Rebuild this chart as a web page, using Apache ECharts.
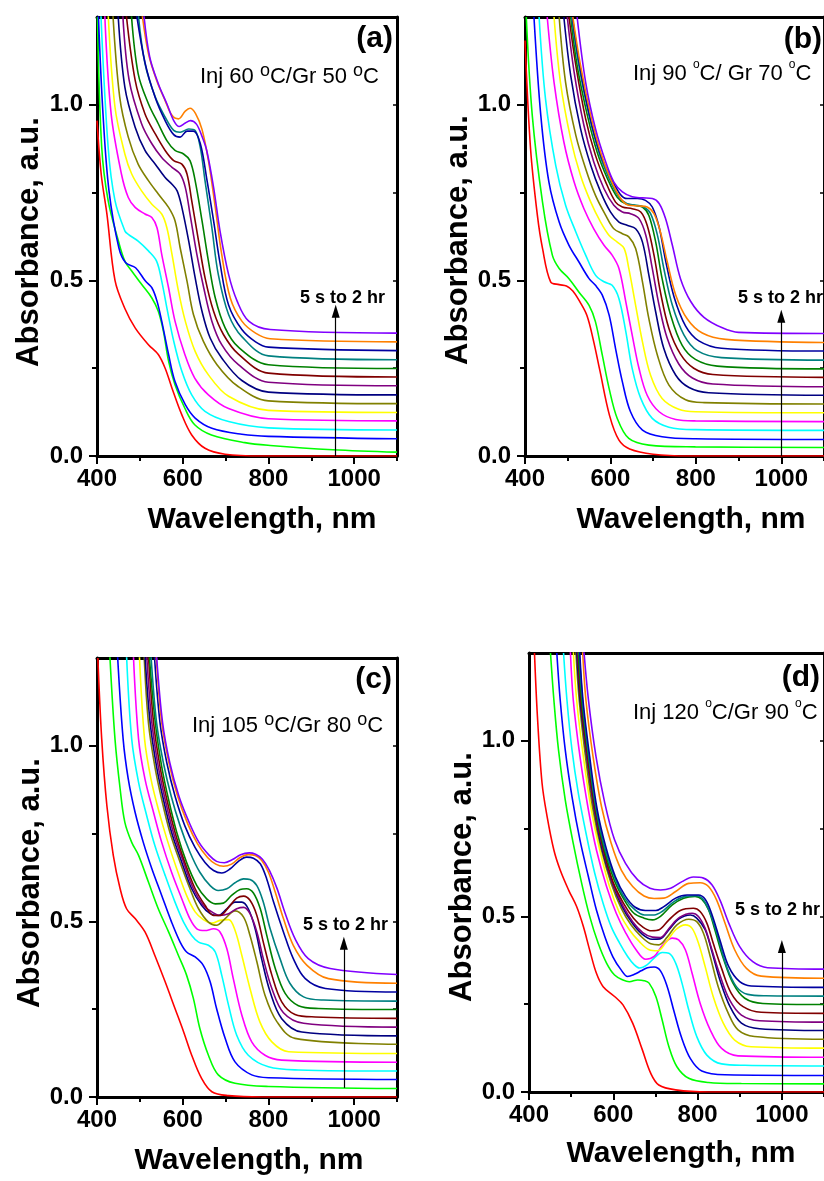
<!DOCTYPE html>
<html>
<head>
<meta charset="utf-8">
<script src="https://cdn.jsdelivr.net/npm/echarts@6/dist/echarts.min.js"></script>
<style>
  html, body { margin: 0; padding: 0; background: #fff; }
  #chart { width: 824px; height: 1181px; }
</style>
</head>
<body>
<div id="chart"></div>
<script>
// spectra colours, first scan (5 s) to last (2 hr)
const colors = ['#ff0000', '#00ff00', '#0000ff', '#00ffff', '#ff00ff', '#ffff00', '#808000',
  '#000080', '#800080', '#800000', '#008000', '#008080', '#0000a0', '#ff8000', '#8000ff'];

const xTicks = [400, 600, 800, 1000];
const xMinor = [500, 700, 900, 1100];
const yTicks = [0, 0.5, 1.0];
const yMinor = [0.25, 0.75];
const yRight = [0.25, 0.5, 0.75, 1.0];

const tags = ['(a)', '(b)', '(c)', '(d)'];
const notes = [
  '{t|Inj 60 }{sb|o}{t|C/Gr 50 }{sb|o}{t|C}',
  '{t|Inj 90 }{ss|o}{t|C/ Gr 70 }{ss|o}{t|C}',
  '{t|Inj 105 }{sb|o}{t|C/Gr 80 }{sb|o}{t|C}',
  '{t|Inj 120 }{ss|o}{t|C/Gr 90 }{ss|o}{t|C}'
];
const arrowText = '5 s to 2 hr';
const arrowX = [957, 1000, 976, 1000];
const arrowFrom = [0, 0, 0.026, 0];
const arrowTo = [0.412, 0.398, 0.438, 0.414];

// (a) Inj 60 / Gr 50
const specA = [
  [[400,0.955],[410,0.80],[423,0.69],[442,0.50],[465,0.42],[489,0.365],[520,0.317],[543,0.289],[559,0.25],[575,0.193],[598,0.117],[621,0.06],[652,0.022],[699,0.005],[784,0],[1100,0]],
  [[401,1.25],[411,0.879],[426,0.727],[450,0.612],[465,0.555],[481,0.527],[504,0.489],[528,0.45],[543,0.412],[555,0.355],[567,0.27],[582,0.203],[605,0.136],[628,0.089],[667,0.06],[745,0.038],[804,0.03],[950,0.018],[1100,0.011]],
  [[403,1.26],[414,0.974],[428,0.755],[451,0.593],[467,0.55],[490,0.536],[513,0.498],[528,0.479],[540,0.441],[551,0.384],[567,0.289],[582,0.212],[606,0.146],[629,0.108],[668,0.079],[738,0.062],[800,0.056],[1100,0.049]],
  [[409,1.26],[426,0.879],[442,0.727],[465,0.641],[473,0.631],[496,0.612],[520,0.584],[539,0.555],[551,0.498],[563,0.422],[579,0.327],[598,0.241],[621,0.174],[652,0.127],[707,0.098],[800,0.08],[1100,0.074]],
  [[418,1.26],[433,0.974],[457,0.803],[473,0.736],[489,0.708],[512,0.689],[528,0.679],[540,0.65],[551,0.574],[567,0.479],[582,0.384],[605,0.289],[628,0.222],[660,0.174],[707,0.135],[800,0.106],[1100,0.1]],
  [[426,1.26],[442,0.993],[465,0.86],[481,0.803],[504,0.755],[528,0.717],[551,0.689],[563,0.65],[575,0.574],[590,0.47],[606,0.384],[629,0.298],[660,0.231],[707,0.17],[800,0.13],[1100,0.124]],
  [[437,1.26],[453,1.022],[473,0.908],[496,0.831],[520,0.784],[543,0.746],[567,0.708],[582,0.67],[594,0.593],[610,0.498],[625,0.403],[648,0.327],[680,0.26],[727,0.2],[800,0.157],[1100,0.149]],
  [[449,1.26],[465,1.05],[489,0.936],[512,0.87],[536,0.831],[559,0.793],[575,0.774],[587,0.755],[598,0.708],[614,0.612],[629,0.508],[645,0.412],[664,0.336],[691,0.279],[738,0.215],[800,0.182],[1100,0.174]],
  [[460,1.26],[475,1.07],[504,0.946],[528,0.889],[551,0.85],[575,0.822],[594,0.803],[606,0.765],[617,0.689],[633,0.574],[649,0.479],[668,0.384],[691,0.317],[730,0.26],[800,0.21],[1100,0.2]],
  [[468,1.26],[489,1.07],[512,0.974],[536,0.917],[559,0.87],[579,0.841],[598,0.831],[610,0.803],[621,0.727],[637,0.612],[652,0.508],[672,0.412],[695,0.346],[730,0.29],[800,0.236],[1100,0.225]],
  [[480,1.26],[496,1.089],[520,1.003],[543,0.946],[563,0.898],[582,0.87],[602,0.86],[617,0.841],[629,0.784],[645,0.67],[660,0.555],[676,0.45],[699,0.365],[730,0.31],[800,0.26],[1100,0.249]],
  [[496,1.26],[512,1.117],[536,1.022],[559,0.965],[579,0.927],[594,0.922],[614,0.931],[629,0.927],[641,0.879],[652,0.784],[668,0.65],[683,0.517],[707,0.403],[738,0.34],[800,0.285],[1100,0.274]],
  [[492,1.26],[512,1.12],[536,1.02],[559,0.955],[579,0.915],[594,0.908],[610,0.925],[625,0.925],[641,0.89],[656,0.79],[672,0.67],[687,0.55],[707,0.43],[738,0.36],[770,0.325],[800,0.31],[1100,0.3]],
  [[505,1.26],[520,1.146],[539,1.07],[559,1.012],[575,0.97],[590,0.96],[606,0.982],[617,0.99],[630,0.975],[645,0.93],[660,0.841],[676,0.708],[691,0.574],[711,0.45],[738,0.384],[770,0.35],[804,0.334],[1100,0.325]],
  [[509,1.26],[523,1.136],[543,1.06],[563,1.003],[579,0.955],[592,0.938],[606,0.948],[618,0.955],[632,0.945],[645,0.91],[656,0.87],[672,0.765],[687,0.641],[707,0.517],[727,0.441],[754,0.384],[804,0.36],[1100,0.35]]
];

// (b) Inj 90 / Gr 70
const specB = [
  [[400,1.183],[413,0.875],[429,0.685],[441,0.591],[460,0.496],[480,0.488],[497,0.484],[512,0.47],[528,0.44],[545,0.40],[560,0.33],[575,0.245],[598,0.115],[620,0.045],[645,0.02],[700,0.005],[784,0],[1100,0]],
  [[403,1.25],[417,0.97],[441,0.723],[464,0.572],[480,0.534],[503,0.505],[526,0.467],[550,0.429],[565,0.382],[581,0.287],[597,0.192],[616,0.107],[643,0.05],[690,0.031],[799,0.026],[1100,0.024]],
  [[421,1.25],[437,0.97],[456,0.78],[480,0.666],[503,0.6],[526,0.553],[550,0.505],[565,0.486],[581,0.458],[597,0.401],[612,0.306],[628,0.211],[647,0.126],[675,0.074],[721,0.055],[799,0.049],[1100,0.047]],
  [[433,1.25],[448,1.017],[472,0.827],[495,0.714],[519,0.638],[542,0.572],[565,0.515],[585,0.496],[604,0.486],[620,0.448],[636,0.354],[651,0.249],[671,0.164],[698,0.107],[737,0.082],[799,0.075],[1100,0.073]],
  [[452,1.25],[468,1.064],[491,0.894],[515,0.78],[538,0.704],[561,0.647],[585,0.6],[604,0.572],[620,0.534],[636,0.439],[651,0.344],[667,0.249],[686,0.173],[714,0.126],[753,0.104],[799,0.1],[1100,0.098]],
  [[468,1.25],[483,1.064],[507,0.903],[530,0.799],[554,0.723],[577,0.666],[597,0.628],[616,0.609],[632,0.591],[643,0.534],[659,0.429],[675,0.325],[694,0.23],[721,0.164],[760,0.133],[799,0.126],[1100,0.123]],
  [[480,1.25],[495,1.064],[519,0.913],[542,0.818],[565,0.742],[589,0.685],[608,0.647],[628,0.633],[643,0.624],[659,0.591],[675,0.496],[690,0.391],[710,0.287],[737,0.202],[776,0.16],[820,0.152],[1100,0.148]],
  [[491,1.25],[507,1.083],[530,0.932],[554,0.827],[577,0.752],[600,0.695],[620,0.666],[639,0.657],[659,0.647],[675,0.609],[690,0.515],[706,0.41],[725,0.306],[753,0.23],[784,0.195],[830,0.18],[1100,0.173]],
  [[499,1.25],[515,1.093],[538,0.941],[561,0.837],[585,0.761],[608,0.714],[628,0.695],[647,0.69],[667,0.676],[683,0.628],[698,0.534],[714,0.429],[733,0.335],[760,0.262],[792,0.222],[840,0.205],[1100,0.197]],
  [[503,1.25],[519,1.112],[542,0.96],[565,0.856],[589,0.78],[612,0.723],[628,0.709],[651,0.704],[671,0.695],[686,0.657],[702,0.572],[717,0.467],[737,0.363],[764,0.29],[795,0.25],[840,0.232],[1100,0.224]],
  [[507,1.25],[522,1.112],[546,0.97],[569,0.865],[593,0.79],[616,0.737],[636,0.718],[655,0.714],[675,0.709],[690,0.685],[706,0.609],[721,0.505],[741,0.401],[768,0.315],[799,0.275],[850,0.256],[1100,0.248]],
  [[509,1.25],[526,1.112],[550,0.97],[573,0.865],[597,0.79],[620,0.737],[639,0.718],[659,0.714],[678,0.709],[694,0.69],[710,0.629],[725,0.534],[745,0.429],[772,0.345],[803,0.3],[860,0.28],[1100,0.273]],
  [[511,1.25],[528,1.112],[551,0.97],[575,0.865],[598,0.799],[622,0.747],[639,0.733],[663,0.733],[682,0.728],[698,0.709],[714,0.652],[729,0.557],[749,0.453],[776,0.37],[807,0.328],[860,0.307],[1100,0.299]],
  [[512,1.25],[530,1.112],[554,0.97],[577,0.865],[600,0.79],[624,0.733],[643,0.714],[667,0.712],[686,0.709],[702,0.69],[717,0.638],[733,0.553],[753,0.458],[780,0.39],[815,0.35],[870,0.332],[1100,0.323]],
  [[522,1.25],[542,1.064],[565,0.932],[589,0.837],[608,0.78],[628,0.752],[651,0.738],[675,0.735],[698,0.733],[714,0.719],[729,0.676],[745,0.6],[764,0.505],[788,0.44],[819,0.395],[862,0.365],[900,0.352],[1100,0.349]]
];

// (c) Inj 105 / Gr 80
const specC = [
  [[402,1.25],[411,1.019],[423,0.83],[438,0.688],[454,0.593],[469,0.536],[489,0.508],[512,0.47],[535,0.403],[559,0.328],[582,0.252],[602,0.186],[621,0.119],[644,0.053],[668,0.015],[707,0.004],[784,0],[1100,0]],
  [[430,1.256],[442,1.019],[454,0.877],[465,0.782],[481,0.725],[497,0.688],[520,0.612],[543,0.536],[567,0.47],[590,0.403],[609,0.347],[625,0.28],[640,0.195],[660,0.119],[683,0.063],[722,0.039],[800,0.03],[1100,0.024]],
  [[448,1.256],[461,1.019],[473,0.905],[489,0.81],[508,0.725],[528,0.65],[551,0.574],[574,0.498],[594,0.441],[609,0.413],[629,0.399],[648,0.375],[664,0.328],[679,0.252],[699,0.167],[722,0.1],[761,0.063],[800,0.055],[1100,0.05]],
  [[469,1.256],[481,1.019],[497,0.896],[516,0.801],[535,0.716],[559,0.631],[582,0.555],[602,0.498],[621,0.46],[637,0.441],[660,0.432],[676,0.413],[691,0.347],[707,0.261],[726,0.176],[753,0.119],[800,0.086],[870,0.077],[1100,0.074]],
  [[485,1.256],[497,1.019],[512,0.905],[532,0.81],[551,0.725],[574,0.64],[598,0.564],[617,0.507],[633,0.479],[652,0.474],[672,0.479],[687,0.47],[703,0.422],[718,0.337],[738,0.233],[761,0.157],[792,0.119],[831,0.105],[1100,0.099]],
  [[499,1.256],[511,1.019],[526,0.905],[543,0.82],[563,0.735],[586,0.65],[609,0.574],[629,0.527],[648,0.505],[668,0.495],[687,0.503],[707,0.505],[722,0.475],[738,0.403],[757,0.309],[780,0.214],[808,0.157],[847,0.129],[1100,0.124]],
  [[510,1.256],[520,1.066],[535,0.941],[551,0.847],[570,0.754],[594,0.668],[617,0.593],[637,0.536],[660,0.498],[679,0.489],[699,0.508],[722,0.53],[742,0.512],[757,0.46],[773,0.385],[792,0.29],[820,0.214],[862,0.167],[1100,0.15]],
  [[512,1.256],[524,1.066],[539,0.941],[555,0.847],[574,0.754],[598,0.668],[621,0.593],[644,0.546],[664,0.522],[683,0.517],[703,0.536],[722,0.555],[738,0.555],[753,0.536],[769,0.479],[784,0.394],[804,0.299],[831,0.223],[878,0.185],[1100,0.174]],
  [[516,1.256],[528,1.066],[543,0.941],[559,0.847],[578,0.754],[602,0.668],[625,0.593],[648,0.546],[668,0.527],[687,0.517],[707,0.522],[726,0.536],[742,0.54],[757,0.522],[773,0.47],[788,0.394],[808,0.309],[835,0.24],[882,0.21],[1100,0.199]],
  [[520,1.256],[532,1.066],[547,0.941],[563,0.847],[582,0.754],[605,0.668],[629,0.593],[652,0.546],[672,0.517],[687,0.517],[707,0.54],[726,0.566],[742,0.572],[757,0.56],[773,0.517],[788,0.441],[808,0.347],[831,0.271],[862,0.235],[909,0.228],[1100,0.224]],
  [[522,1.256],[536,1.066],[551,0.941],[567,0.847],[586,0.754],[609,0.668],[633,0.602],[656,0.564],[676,0.55],[695,0.552],[714,0.574],[734,0.591],[749,0.593],[765,0.581],[781,0.536],[796,0.461],[816,0.366],[839,0.295],[870,0.26],[917,0.252],[1100,0.249]],
  [[526,1.256],[539,1.066],[555,0.951],[573,0.857],[594,0.772],[617,0.697],[640,0.64],[664,0.602],[683,0.588],[703,0.593],[722,0.61],[742,0.621],[757,0.619],[773,0.602],[788,0.555],[804,0.479],[827,0.394],[850,0.324],[882,0.285],[929,0.276],[1100,0.273]],
  [[534,1.256],[547,1.066],[563,0.951],[582,0.857],[605,0.772],[629,0.71],[652,0.668],[672,0.645],[691,0.638],[711,0.65],[730,0.671],[749,0.683],[765,0.68],[781,0.664],[796,0.621],[812,0.555],[835,0.47],[858,0.394],[886,0.337],[933,0.309],[1100,0.299]],
  [[538,1.256],[551,1.066],[568,0.951],[588,0.857],[612,0.777],[635,0.72],[658,0.682],[677,0.663],[695,0.657],[714,0.663],[734,0.682],[753,0.69],[769,0.688],[784,0.674],[800,0.64],[816,0.583],[835,0.508],[858,0.432],[890,0.375],[940,0.337],[1100,0.324]],
  [[539,1.256],[553,1.066],[570,0.951],[591,0.857],[615,0.782],[638,0.725],[662,0.688],[679,0.671],[697,0.667],[716,0.676],[735,0.69],[755,0.695],[770,0.691],[786,0.677],[802,0.646],[820,0.594],[839,0.523],[862,0.451],[893,0.394],[944,0.366],[1100,0.349]]
];

// (d) Inj 120 / Gr 90
const specD = [
  [[413,1.25],[420,1.069],[431,0.879],[443,0.784],[459,0.689],[474,0.632],[494,0.575],[513,0.528],[529,0.471],[544,0.404],[560,0.338],[576,0.3],[603,0.272],[623,0.248],[646,0.196],[669,0.12],[689,0.053],[708,0.02],[748,0.006],[826,0],[1100,0]],
  [[451,1.25],[459,1.117],[470,0.974],[486,0.832],[505,0.708],[525,0.594],[544,0.5],[564,0.424],[584,0.367],[603,0.333],[623,0.319],[638,0.314],[658,0.319],[673,0.317],[685,0.31],[701,0.272],[716,0.205],[732,0.129],[751,0.072],[779,0.039],[826,0.027],[904,0.024],[1100,0.023]],
  [[466,1.25],[474,1.117],[486,0.974],[502,0.841],[521,0.717],[541,0.613],[560,0.518],[580,0.442],[599,0.385],[619,0.347],[634,0.329],[650,0.335],[666,0.345],[681,0.354],[697,0.356],[712,0.345],[728,0.3],[744,0.23],[762,0.155],[783,0.095],[810,0.06],[865,0.049],[1100,0.047]],
  [[482,1.25],[490,1.117],[502,0.974],[517,0.851],[537,0.727],[556,0.623],[576,0.537],[595,0.471],[615,0.424],[634,0.386],[650,0.362],[662,0.353],[680,0.362],[700,0.385],[716,0.397],[732,0.395],[748,0.367],[763,0.31],[779,0.234],[798,0.158],[822,0.105],[857,0.08],[912,0.076],[1100,0.074]],
  [[498,1.26],[505,1.117],[521,0.955],[541,0.803],[560,0.689],[584,0.585],[607,0.509],[630,0.452],[654,0.405],[677,0.378],[697,0.386],[716,0.416],[740,0.438],[755,0.433],[771,0.405],[787,0.338],[806,0.253],[830,0.177],[857,0.124],[896,0.103],[1100,0.099]],
  [[505,1.26],[513,1.117],[529,0.955],[548,0.803],[568,0.689],[591,0.585],[615,0.509],[638,0.462],[662,0.428],[685,0.405],[705,0.402],[724,0.424],[748,0.462],[771,0.476],[787,0.466],[802,0.424],[818,0.357],[837,0.272],[861,0.196],[888,0.148],[927,0.129],[1100,0.125]],
  [[511,1.26],[519,1.117],[534,0.955],[552,0.803],[572,0.689],[595,0.594],[619,0.523],[642,0.476],[666,0.443],[689,0.422],[708,0.419],[728,0.441],[751,0.476],[779,0.492],[798,0.485],[814,0.452],[830,0.386],[849,0.3],[873,0.224],[896,0.177],[935,0.158],[1100,0.15]],
  [[513,1.26],[521,1.117],[537,0.955],[555,0.803],[574,0.689],[598,0.594],[621,0.528],[645,0.481],[668,0.45],[692,0.435],[711,0.436],[732,0.462],[755,0.492],[783,0.504],[798,0.495],[818,0.462],[834,0.4],[853,0.319],[877,0.243],[904,0.196],[947,0.18],[1100,0.175]],
  [[515,1.26],[523,1.117],[538,0.955],[556,0.803],[576,0.689],[599,0.594],[623,0.53],[646,0.485],[670,0.454],[693,0.441],[712,0.44],[733,0.467],[757,0.497],[787,0.509],[802,0.5],[818,0.466],[833,0.409],[853,0.333],[876,0.262],[904,0.219],[947,0.203],[1100,0.199]],
  [[516,1.26],[523,1.117],[539,0.955],[557,0.803],[577,0.689],[599,0.599],[624,0.538],[648,0.495],[671,0.469],[691,0.459],[709,0.462],[732,0.49],[759,0.517],[790,0.523],[806,0.514],[822,0.481],[837,0.424],[857,0.352],[880,0.281],[908,0.243],[951,0.227],[1100,0.224]],
  [[517,1.26],[525,1.117],[541,0.955],[559,0.803],[579,0.689],[602,0.604],[626,0.547],[649,0.509],[673,0.495],[693,0.49],[712,0.5],[740,0.533],[767,0.552],[794,0.557],[810,0.549],[826,0.519],[841,0.462],[861,0.381],[884,0.31],[912,0.267],[955,0.252],[1100,0.249]],
  [[519,1.26],[527,1.117],[542,0.955],[560,0.803],[580,0.694],[604,0.609],[627,0.552],[651,0.519],[674,0.504],[697,0.504],[716,0.514],[744,0.542],[771,0.557],[798,0.559],[814,0.547],[830,0.509],[848,0.443],[869,0.357],[892,0.3],[919,0.278],[962,0.274],[1100,0.273]],
  [[520,1.26],[528,1.117],[544,0.955],[562,0.803],[582,0.699],[605,0.613],[629,0.557],[652,0.526],[676,0.517],[701,0.517],[720,0.528],[748,0.552],[775,0.561],[802,0.561],[818,0.549],[833,0.509],[853,0.433],[874,0.357],[900,0.314],[927,0.302],[1100,0.298]],
  [[527,1.26],[535,1.117],[552,0.955],[572,0.813],[595,0.708],[619,0.632],[646,0.585],[673,0.558],[697,0.551],[720,0.552],[748,0.571],[779,0.594],[806,0.596],[826,0.585],[845,0.547],[865,0.481],[888,0.405],[916,0.352],[951,0.33],[1100,0.324]],
  [[530,1.26],[541,1.117],[559,0.955],[580,0.822],[603,0.718],[629,0.651],[658,0.604],[687,0.58],[712,0.575],[736,0.58],[763,0.599],[790,0.612],[814,0.609],[834,0.59],[853,0.547],[874,0.481],[900,0.414],[931,0.371],[966,0.354],[1100,0.35]]
];

const panels = [specA, specB, specC, specD];

const font = '"Liberation Sans", Arial, Helvetica, sans-serif';

// panel frames (pixels)
const boxes = [
  { left: 97, top: 17 },
  { left: 525, top: 17 },
  { left: 97, top: 658 },
  { left: 529, top: 653 }
];
const boxW = 300, boxH = 439;

const grid = [], xAxis = [], yAxis = [], series = [], graphic = [];

boxes.forEach(function (b, g) {
  grid.push({ left: b.left, top: b.top, width: boxW, height: boxH, containLabel: false });

  // bottom axis with labels and major ticks
  xAxis.push({
    type: 'value', gridIndex: g, min: 400, max: 1100, position: 'bottom',
    axisLine: { show: true, onZero: false, lineStyle: { color: '#000', width: 3 } },
    axisTick: { show: true, customValues: xTicks, length: 8, lineStyle: { color: '#000', width: 2 } },
    axisLabel: {
      customValues: xTicks, margin: 11, color: '#000', fontSize: 24, fontWeight: 'bold', fontFamily: font,
      formatter: function (v) { return String(v); }
    },
    splitLine: { show: false }
  });
  // bottom minor ticks
  xAxis.push({
    type: 'value', gridIndex: g, min: 400, max: 1100, position: 'bottom',
    axisLine: { show: false },
    axisTick: { show: true, customValues: xMinor, length: 5, lineStyle: { color: '#000', width: 2 } },
    axisLabel: { show: false }, splitLine: { show: false }
  });
  // top frame
  xAxis.push({
    type: 'value', gridIndex: g, min: 400, max: 1100, position: 'top',
    axisLine: { show: true, onZero: false, lineStyle: { color: '#000', width: 3 } },
    axisTick: { show: false }, axisLabel: { show: false }, splitLine: { show: false }
  });

  yAxis.push({
    type: 'value', gridIndex: g, min: 0, max: 1.25, position: 'left',
    axisLine: { show: true, onZero: false, lineStyle: { color: '#000', width: 3 } },
    axisTick: { show: true, customValues: yTicks, length: 8, lineStyle: { color: '#000', width: 2 } },
    axisLabel: {
      customValues: yTicks, margin: 14, color: '#000', fontSize: 24, fontWeight: 'bold', fontFamily: font,
      formatter: function (v) { return v.toFixed(1); }
    },
    splitLine: { show: false }
  });
  yAxis.push({
    type: 'value', gridIndex: g, min: 0, max: 1.25, position: 'left',
    axisLine: { show: false },
    axisTick: { show: true, customValues: yMinor, length: 5, lineStyle: { color: '#000', width: 2 } },
    axisLabel: { show: false }, splitLine: { show: false }
  });
  yAxis.push({
    type: 'value', gridIndex: g, min: 0, max: 1.25, position: 'right',
    axisLine: { show: true, onZero: false, lineStyle: { color: '#000', width: 3 } },
    axisTick: { show: true, inside: true, customValues: yRight, length: 4, lineStyle: { color: '#000', width: 1.5 } },
    axisLabel: { show: false }, splitLine: { show: false }
  });

  panels[g].forEach(function (curve, k) {
    series.push({
      type: 'line', xAxisIndex: 3 * g, yAxisIndex: 3 * g,
      data: curve, showSymbol: false, smooth: 0.35, clip: true, silent: true,
      lineStyle: { color: colors[k], width: 1.6 }
    });
  });

  // growth arrow
  series.push({
    type: 'line', xAxisIndex: 3 * g, yAxisIndex: 3 * g, data: [[arrowX[g], arrowFrom[g]]],
    showSymbol: false, silent: true, lineStyle: { width: 0 },
    markLine: {
      silent: true, symbol: ['none', 'triangle'], symbolSize: [8, 13],
      label: { show: false },
      lineStyle: { color: '#000', width: 1.2, type: 'solid' },
      data: [[{ coord: [arrowX[g], arrowFrom[g]] }, { coord: [arrowX[g], arrowTo[g]] }]]
    }
  });
});

// text placements (pixels)
const tagPos = [[393, 39], [822, 40], [392, 680], [820, 678]];
const notePos = [[200, 75], [633, 72], [192, 724], [633, 711]];
const arrowTextPos = [[300, 298], [738, 298], [303, 925], [735, 910]];
const yNamePos = [[29, 242], [458, 240], [30, 883], [462, 877]];
const xNamePos = [[262, 520], [691, 520], [249, 1161], [681, 1154]];

for (let g = 0; g < 4; g++) {
  graphic.push({
    type: 'text', x: tagPos[g][0], y: tagPos[g][1], silent: true,
    style: { text: tags[g], fill: '#000', font: 'bold 30px ' + font, align: 'right', verticalAlign: 'middle' }
  });
  graphic.push({
    type: 'text', x: notePos[g][0], y: notePos[g][1], silent: true,
    style: {
      text: notes[g], align: 'left', verticalAlign: 'middle',
      rich: {
        t: { fontSize: 22, fontFamily: font, fill: '#000', lineHeight: 26, verticalAlign: 'bottom' },
        sb: { fontSize: 18, fontFamily: font, fill: '#000', lineHeight: 18, verticalAlign: 'top' },
        ss: { fontSize: 12, fontFamily: font, fill: '#000', lineHeight: 14, verticalAlign: 'top' }
      }
    }
  });
  graphic.push({
    type: 'text', x: arrowTextPos[g][0], y: arrowTextPos[g][1], silent: true,
    style: { text: arrowText, fill: '#000', font: 'bold 18px ' + font, align: 'left', verticalAlign: 'middle' }
  });
  graphic.push({
    type: 'text', x: yNamePos[g][0], y: yNamePos[g][1], rotation: Math.PI / 2, silent: true,
    style: { text: 'Absorbance, a.u.', fill: '#000', font: 'bold 31px ' + font, align: 'center', verticalAlign: 'middle' }
  });
  graphic.push({
    type: 'text', x: xNamePos[g][0], y: xNamePos[g][1], silent: true,
    style: { text: 'Wavelength, nm', fill: '#000', font: 'bold 30px ' + font, align: 'center', verticalAlign: 'middle' }
  });
}

const chart = echarts.init(document.getElementById('chart'), null, { renderer: 'canvas' });
chart.setOption({
  animation: false,
  backgroundColor: '#fff',
  grid: grid,
  xAxis: xAxis,
  yAxis: yAxis,
  series: series,
  graphic: graphic
});
</script>
</body>
</html>
